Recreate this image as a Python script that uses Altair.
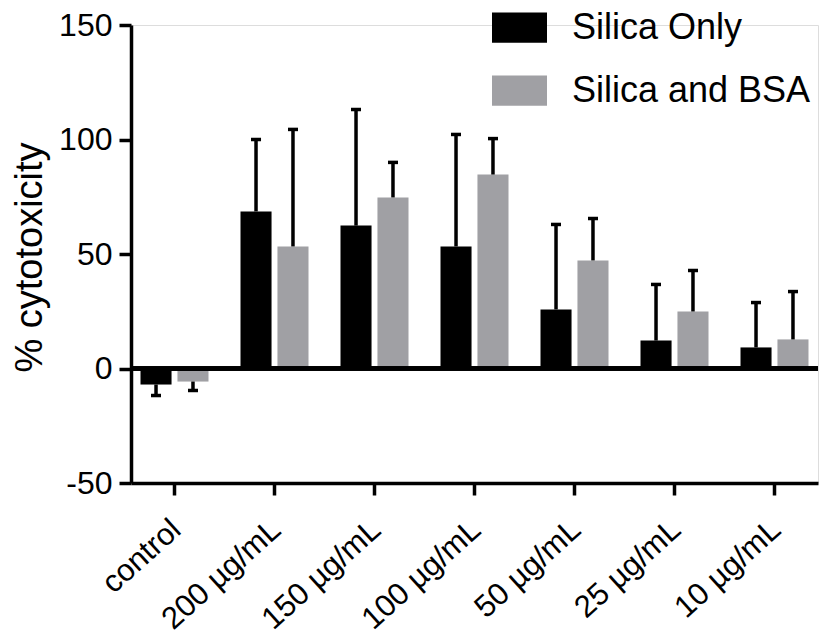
import altair as alt
import pandas as pd

# Concentrations tested and mean % cytotoxicity with SD (one-sided error bars)
categories = ["control", "200 µg/mL", "150 µg/mL", "100 µg/mL", "50 µg/mL", "25 µg/mL", "10 µg/mL"]
series = ["Silica Only", "Silica and BSA"]
silica_only = [-7.0, 68.6, 62.4, 53.3, 25.8, 12.2, 9.2]
silica_only_sd = [4.8, 31.4, 50.7, 48.9, 37.1, 24.5, 19.6]
silica_bsa = [-5.7, 53.3, 74.7, 84.7, 47.2, 24.9, 12.7]
silica_bsa_sd = [3.9, 51.1, 15.3, 15.7, 18.3, 17.9, 20.9]

rows = []
for means, sds, name in [(silica_only, silica_only_sd, series[0]), (silica_bsa, silica_bsa_sd, series[1])]:
    for cat, m, s in zip(categories, means, sds):
        end = m + s if m >= 0 else m - s
        rows.append({"group": cat, "series": name, "value": m, "end": end})
df = pd.DataFrame(rows)

FONT = "Liberation Sans"

x_enc = alt.X(
    "group:N",
    sort=categories,
    scale=alt.Scale(paddingInner=0.32, paddingOuter=0.095),
    axis=alt.Axis(
        title=None,
        labelAngle=-42,
        labelFontSize=31,
        labelPadding=19,
        labelOffset=-8,
        labelFont=FONT,
        labelColor="black",
        domainColor="black",
        domainWidth=3.5,
        tickColor="black",
        tickWidth=3.5,
        tickSize=12,
        labelLimit=400,
    ),
)
xoff_enc = alt.XOffset("series:N", sort=series, scale=alt.Scale(paddingInner=0.16, paddingOuter=0))

y_scale = alt.Scale(domain=[-50, 150], nice=False, zero=False)

bars = alt.Chart(df).mark_bar().encode(
    x=x_enc,
    xOffset=xoff_enc,
    y=alt.Y(
        "value:Q",
        scale=y_scale,
        axis=alt.Axis(
            title="% cytotoxicity",
            values=[-50, 0, 50, 100, 150],
            labelExpr="'' + datum.value",
            grid=False,
            labelFontSize=32,
            labelFont=FONT,
            labelColor="black",
            labelPadding=7,
            titleFont=FONT,
            titleFontSize=38,
            titleFontWeight="normal",
            titleColor="black",
            titleX=-90,
            titleY=232,
            titleBaseline="alphabetic",
            domainColor="black",
            domainWidth=3.5,
            tickColor="black",
            tickWidth=3.5,
            tickSize=12,
        ),
    ),
    color=alt.Color(
        "series:N",
        sort=series,
        scale=alt.Scale(domain=series, range=["#000000", "#a0a0a4"]),
        legend=alt.Legend(
            title=None,
            orient="none",
            legendX=361,
            legendY=-25,
            padding=0,
            symbolType="M-1,-0.55H1V0.55H-1Z",
            symbolSize=3025,
            symbolStrokeWidth=0,
            symbolOpacity=1,
            labelFont=FONT,
            labelFontSize=36,
            labelColor="black",
            labelOffset=25,
            labelLimit=400,
            rowPadding=17,
        ),
    ),
)

err_lines = alt.Chart(df).mark_rule(color="black", strokeWidth=3.5).encode(
    x=alt.X("group:N", sort=categories),
    xOffset=alt.XOffset("series:N", sort=series),
    y=alt.Y("value:Q"),
    y2="end:Q",
)

err_caps = alt.Chart(df).mark_tick(color="black", thickness=3.5, size=10, opacity=1).encode(
    x=alt.X("group:N", sort=categories),
    xOffset=alt.XOffset("series:N", sort=series),
    y=alt.Y("end:Q"),
)

zero_line = alt.Chart(df).mark_rule(color="black", strokeWidth=3.5).encode(y=alt.datum(0))

chart = (
    alt.layer(bars, err_lines, err_caps, zero_line)
    .properties(
        width=687,
        height=458,
        autosize=alt.AutoSizeParams(type="none"),
        padding={"left": 131, "top": 25, "right": 8, "bottom": 160},
    )
    .configure_view(stroke=None)
    .configure(background="white")
)

chart.save("out.html", embed_options={"renderer": "svg", "actions": False})
